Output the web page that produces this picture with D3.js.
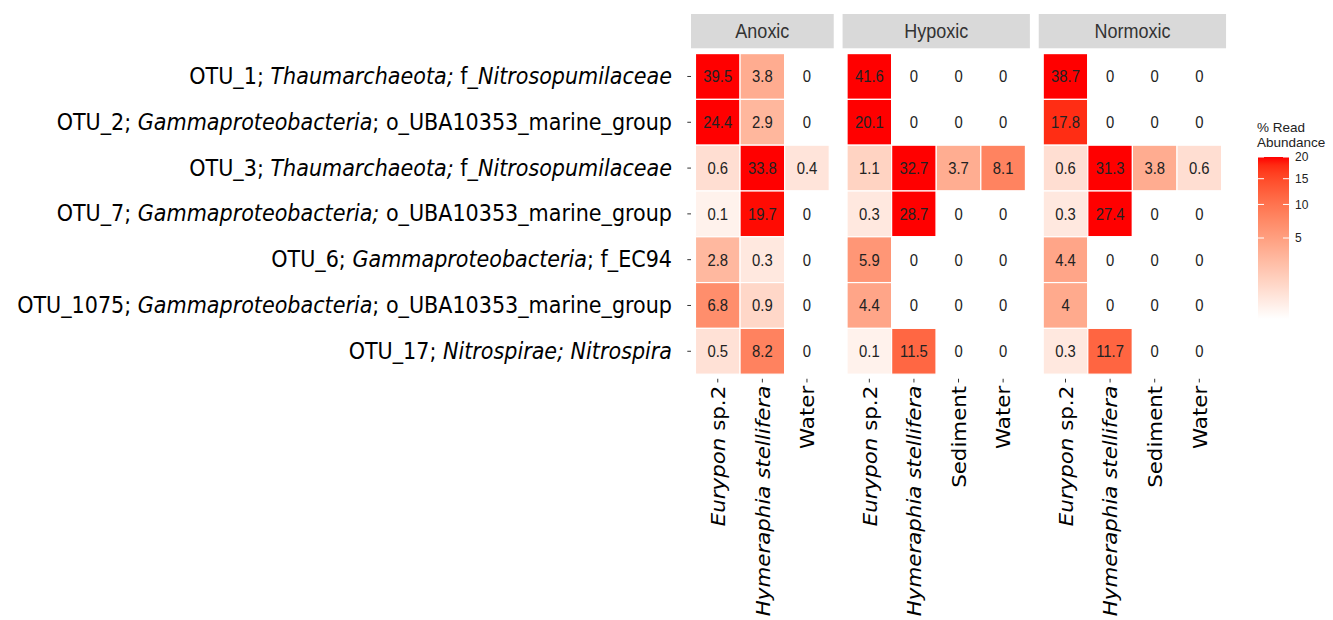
<!DOCTYPE html>
<html>
<head>
<meta charset="utf-8">
<script src="https://cdn.jsdelivr.net/npm/d3@7"></script>
<style>
  body { margin: 0; background: #fff; }
  svg { display: block; }
</style>
</head>
<body>
<script>
// rows, top to bottom; each label is a list of [text, italic]
var otuIds = ["OTU_1", "OTU_2", "OTU_3", "OTU_7", "OTU_6", "OTU_1075", "OTU_17"];
var otuLabels = [
  [["OTU_1; ", 0], ["Thaumarchaeota;", 1], [" f_", 0], ["Nitrosopumilaceae", 1]],
  [["OTU_2; ", 0], ["Gammaproteobacteria", 1], ["; o_UBA10353_marine_group", 0]],
  [["OTU_3; ", 0], ["Thaumarchaeota;", 1], [" f_", 0], ["Nitrosopumilaceae", 1]],
  [["OTU_7; ", 0], ["Gammaproteobacteria;", 1], [" o_UBA10353_marine_group", 0]],
  [["OTU_6; ", 0], ["Gammaproteobacteria", 1], ["; f_EC94", 0]],
  [["OTU_1075; ", 0], ["Gammaproteobacteria", 1], ["; o_UBA10353_marine_group", 0]],
  [["OTU_17; ", 0], ["Nitrospirae; Nitrospira", 1]]
];

var panels = ["Anoxic", "Hypoxic", "Normoxic"];

var samplesAnoxic = ["Eurypon sp.2", "Hymeraphia stellifera", "Water"];
var samplesHypoxic = ["Eurypon sp.2", "Hymeraphia stellifera", "Sediment", "Water"];
var samplesNormoxic = ["Eurypon sp.2", "Hymeraphia stellifera", "Sediment", "Water"];

var sampleLabels = {
  "Eurypon sp.2": [["Eurypon", 1], [" sp.2", 0]],
  "Hymeraphia stellifera": [["Hymeraphia stellifera", 1]],
  "Sediment": [["Sediment", 0]],
  "Water": [["Water", 0]]
};

// % read abundance, rows = otuIds, columns = samples
var valuesAnoxic = [
  [39.5, 3.8, 0],
  [24.4, 2.9, 0],
  [0.6, 33.8, 0.4],
  [0.1, 19.7, 0],
  [2.8, 0.3, 0],
  [6.8, 0.9, 0],
  [0.5, 8.2, 0]
];
var valuesHypoxic = [
  [41.6, 0, 0, 0],
  [20.1, 0, 0, 0],
  [1.1, 32.7, 3.7, 8.1],
  [0.3, 28.7, 0, 0],
  [5.9, 0, 0, 0],
  [4.4, 0, 0, 0],
  [0.1, 11.5, 0, 0]
];
var valuesNormoxic = [
  [38.7, 0, 0, 0],
  [17.8, 0, 0, 0],
  [0.6, 31.3, 3.8, 0.6],
  [0.3, 27.4, 0, 0],
  [4.4, 0, 0, 0],
  [4, 0, 0, 0],
  [0.3, 11.7, 0, 0]
];

var legendTicks = [5, 10, 15, 20];
var legendMax = 20;

var W = 1333, H = 620;
var sx = 0.9;          // the figure is a bit squeezed sideways
var unit = 44.6, gap = 8.85;
var panelLeft = 691, panelTop = 49, rowH = 45.8;
var stripTop = 14, stripBottom = 48.3;

var panelData = [
  {name: panels[0], samples: samplesAnoxic, values: valuesAnoxic},
  {name: panels[1], samples: samplesHypoxic, values: valuesHypoxic},
  {name: panels[2], samples: samplesNormoxic, values: valuesNormoxic}
];

var color = d3.scaleSqrt()
  .domain([0, legendMax])
  .range(["#ffffff", "#ff0000"])
  .interpolate(d3.interpolateLab)
  .clamp(true);

var svg = d3.select("body").append("svg")
  .attr("width", W)
  .attr("height", H);

var y = d3.scaleBand()
  .domain(otuIds)
  .range([panelTop + 0.1 * rowH, panelTop + 7.1 * rowH]);
var panelBottom = panelTop + 7.2 * rowH;

function addSegments(text, segs) {
  segs.forEach(function(s) {
    text.append("tspan")
      .attr("font-style", s[1] ? "italic" : "normal")
      .text(s[0]);
  });
}

// y labels
otuIds.forEach(function(id, i) {
  var cy = y(id) + y.bandwidth() / 2;
  var t = svg.append("g")
    .attr("transform", "translate(672," + cy + ") scale(" + sx + ",1)")
    .append("text")
    .attr("text-anchor", "end")
    .attr("dy", "0.33em")
    .attr("font-family", "'DejaVu Sans', Verdana, sans-serif")
    .attr("font-size", 23)
    .attr("fill", "#000");
  addSegments(t, otuLabels[i]);

  svg.append("line")
    .attr("x1", panelLeft - 3.7).attr("x2", panelLeft)
    .attr("y1", cy).attr("y2", cy)
    .attr("stroke", "#333").attr("stroke-width", 1);
});

var x0 = panelLeft;
panelData.forEach(function(p) {
  var n = p.samples.length;
  var pw = (n + 0.2) * unit;
  var x = d3.scaleBand()
    .domain(p.samples)
    .range([x0 + 0.1 * unit, x0 + (n + 0.1) * unit]);

  // strip
  svg.append("rect")
    .attr("x", x0).attr("y", stripTop)
    .attr("width", pw).attr("height", stripBottom - stripTop)
    .attr("fill", "#d9d9d9");
  svg.append("g")
    .attr("transform", "translate(" + (x0 + pw / 2) + "," + ((stripTop + stripBottom) / 2) + ") scale(" + sx + ",1)")
    .append("text")
    .attr("text-anchor", "middle")
    .attr("dy", "0.36em")
    .attr("font-family", "'Liberation Sans', Arial, sans-serif")
    .attr("font-size", 20)
    .attr("fill", "#333")
    .text(p.name);

  var cells = [];
  p.values.forEach(function(row, i) {
    row.forEach(function(v, j) {
      cells.push({otu: otuIds[i], sample: p.samples[j], value: v});
    });
  });

  var g = svg.append("g");
  g.selectAll("rect.cell")
    .data(cells)
    .enter().append("rect")
    .attr("class", "cell")
    .attr("x", function(d) { return x(d.sample); })
    .attr("y", function(d) { return y(d.otu); })
    .attr("width", x.bandwidth())
    .attr("height", y.bandwidth())
    .attr("fill", function(d) { return color(d.value); })
    .attr("stroke", "#fff")
    .attr("stroke-width", 1.2);

  g.selectAll("g.num")
    .data(cells)
    .enter().append("g")
    .attr("class", "num")
    .attr("transform", function(d) {
      return "translate(" + (x(d.sample) + x.bandwidth() / 2) + "," + (y(d.otu) + y.bandwidth() / 2) + ") scale(" + sx + ",1)";
    })
    .append("text")
    .attr("text-anchor", "middle")
    .attr("dy", "0.36em")
    .attr("font-family", "'Liberation Sans', Arial, sans-serif")
    .attr("font-size", 16.5)
    .attr("fill", "#222")
    .text(function(d) { return d.value; });

  // x ticks and labels
  p.samples.forEach(function(s) {
    var cx = x(s) + x.bandwidth() / 2;
    svg.append("line")
      .attr("x1", cx).attr("x2", cx)
      .attr("y1", panelBottom).attr("y2", panelBottom + 3.7)
      .attr("stroke", "#333").attr("stroke-width", 1);
    var t = svg.append("g")
      .attr("transform", "translate(" + cx + "," + (panelBottom + 7) + ") scale(" + sx + ",0.95) rotate(-90)")
      .append("text")
      .attr("text-anchor", "end")
      .attr("dy", "0.36em")
      .attr("font-family", "'DejaVu Sans', Verdana, sans-serif")
      .attr("font-size", 22.5)
      .attr("fill", "#000");
    addSegments(t, sampleLabels[s]);
  });

  x0 += pw + gap;
});

// legend
var legX = 1258, legW = 31, legTop = 157, legBottom = 319;
var ly = d3.scaleSqrt().domain([0, legendMax]).range([legBottom, legTop]);

var grad = svg.append("defs").append("linearGradient")
  .attr("id", "legGrad")
  .attr("x1", 0).attr("y1", 1).attr("x2", 0).attr("y2", 0);
d3.range(0, 1.0001, 0.05).forEach(function(f) {
  grad.append("stop")
    .attr("offset", f)
    .attr("stop-color", color(ly.invert(legBottom - f * (legBottom - legTop))));
});

svg.append("text")
  .attr("x", 1257).attr("y", 132)
  .attr("font-family", "'Liberation Sans', Arial, sans-serif")
  .attr("font-size", 13.5)
  .attr("fill", "#222")
  .text("% Read");
svg.append("text")
  .attr("x", 1257).attr("y", 147)
  .attr("font-family", "'Liberation Sans', Arial, sans-serif")
  .attr("font-size", 13.5)
  .attr("fill", "#222")
  .text("Abundance");

svg.append("rect")
  .attr("x", legX).attr("y", legTop)
  .attr("width", legW).attr("height", legBottom - legTop)
  .attr("fill", "url(#legGrad)");

legendTicks.forEach(function(v) {
  svg.append("line")
    .attr("x1", legX).attr("x2", legX + 6)
    .attr("y1", ly(v)).attr("y2", ly(v))
    .attr("stroke", "#fff").attr("stroke-width", 1);
  svg.append("line")
    .attr("x1", legX + legW - 6).attr("x2", legX + legW)
    .attr("y1", ly(v)).attr("y2", ly(v))
    .attr("stroke", "#fff").attr("stroke-width", 1);
  svg.append("text")
    .attr("x", legX + legW + 6).attr("y", ly(v))
    .attr("dy", "0.36em")
    .attr("font-family", "'Liberation Sans', Arial, sans-serif")
    .attr("font-size", 12)
    .attr("fill", "#222")
    .text(v);
});
</script>
</body>
</html>
